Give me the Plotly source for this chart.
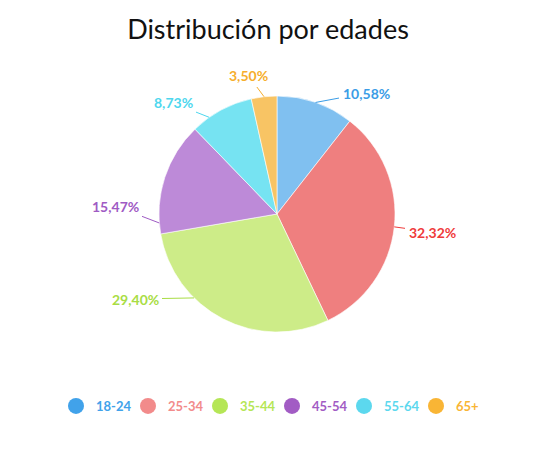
import math
import plotly.graph_objects as go

# Data
groups = ["18-24", "25-34", "35-44", "45-54", "55-64", "65+"]
shares = [10.58, 32.32, 29.40, 15.47, 8.73, 3.50]

slice_colors = ["#80c0f0", "#ef7f7f", "#cdec88", "#bd8ad8", "#76e3f2", "#f8c464"]
label_colors = ["#3b9de6", "#ef3b3b", "#a9dd45", "#9f5bc4", "#4ed7ee", "#f6ae2d"]
legend_colors = ["#41a2ea", "#f28b8b", "#b5e656", "#a25cc4", "#5cd8ee", "#f9b535"]

# page puts the figure 8px in from the corner; positions below are figure pixels
label_pos = [(358, 85), (424, 224), (127, 291), (107, 198), (165, 95), (240, 67)]
anchor_nudge = [0, 0, 17.3, -22.5, -6.7, 0]

W, H = 535, 461
ml, mr, mt, mb = 32, 29, 88, 137
pw, ph = W - ml - mr, H - mt - mb
cx, cy = ml + pw / 2, mt + ph / 2
R = min(pw, ph) / 2

fig = go.Figure()
fig.add_trace(go.Pie(
    labels=groups,
    values=shares,
    sort=False,
    direction="clockwise",
    rotation=0,
    textinfo="none",
    hoverinfo="label+percent",
    marker=dict(colors=slice_colors, line=dict(color="white", width=0.6)),
    showlegend=False,
    domain=dict(x=[0, 1], y=[0, 1]),
))

# legend entries with round markers
for g, c in zip(groups, legend_colors):
    fig.add_trace(go.Scatter(
        x=[None], y=[None], mode="markers",
        marker=dict(symbol="circle", size=16, color=c),
        name=f"<span style='color:{c}'>{g}</span>",
        showlegend=True,
    ))

# outside labels with connector lines
total = sum(shares)
cum = 0
for i, v in enumerate(shares):
    mid = (cum + v / 2) / total * 360
    cum += v
    a = math.radians(mid + anchor_nudge[i])
    px = cx + R * math.sin(a)
    py = cy - R * math.cos(a)
    tx, ty = label_pos[i]
    fig.add_annotation(
        x=(px - ml) / pw, y=(mt + ph - py) / ph, xref="paper", yref="paper",
        text=f"{v:.2f}".replace(".", ",") + "%",
        showarrow=True, arrowhead=0, arrowwidth=1, arrowcolor=label_colors[i],
        ax=tx - px, ay=ty - py, borderpad=3,
        font=dict(family="Lato", size=14, color=label_colors[i], weight="bold"),
    )

fig.update_layout(
    width=W, height=H,
    margin=dict(l=ml, r=mr, t=mt, b=mb),
    paper_bgcolor="white", plot_bgcolor="white",
    title=dict(text="Distribución por edades", x=260 / W, xanchor="center",
               y=1 - 22 / H, yanchor="middle",
               font=dict(family="Lato", size=27, color="#111111")),
    xaxis=dict(visible=False), yaxis=dict(visible=False),
    legend=dict(orientation="h", xref="container", x=264 / W, xanchor="center",
                yref="container", y=1 - 398 / H, yanchor="middle",
                font=dict(family="Lato", size=13, weight="bold"),
                itemwidth=30, entrywidth=27, entrywidthmode="pixels"),
)

fig.write_html("out.html")
